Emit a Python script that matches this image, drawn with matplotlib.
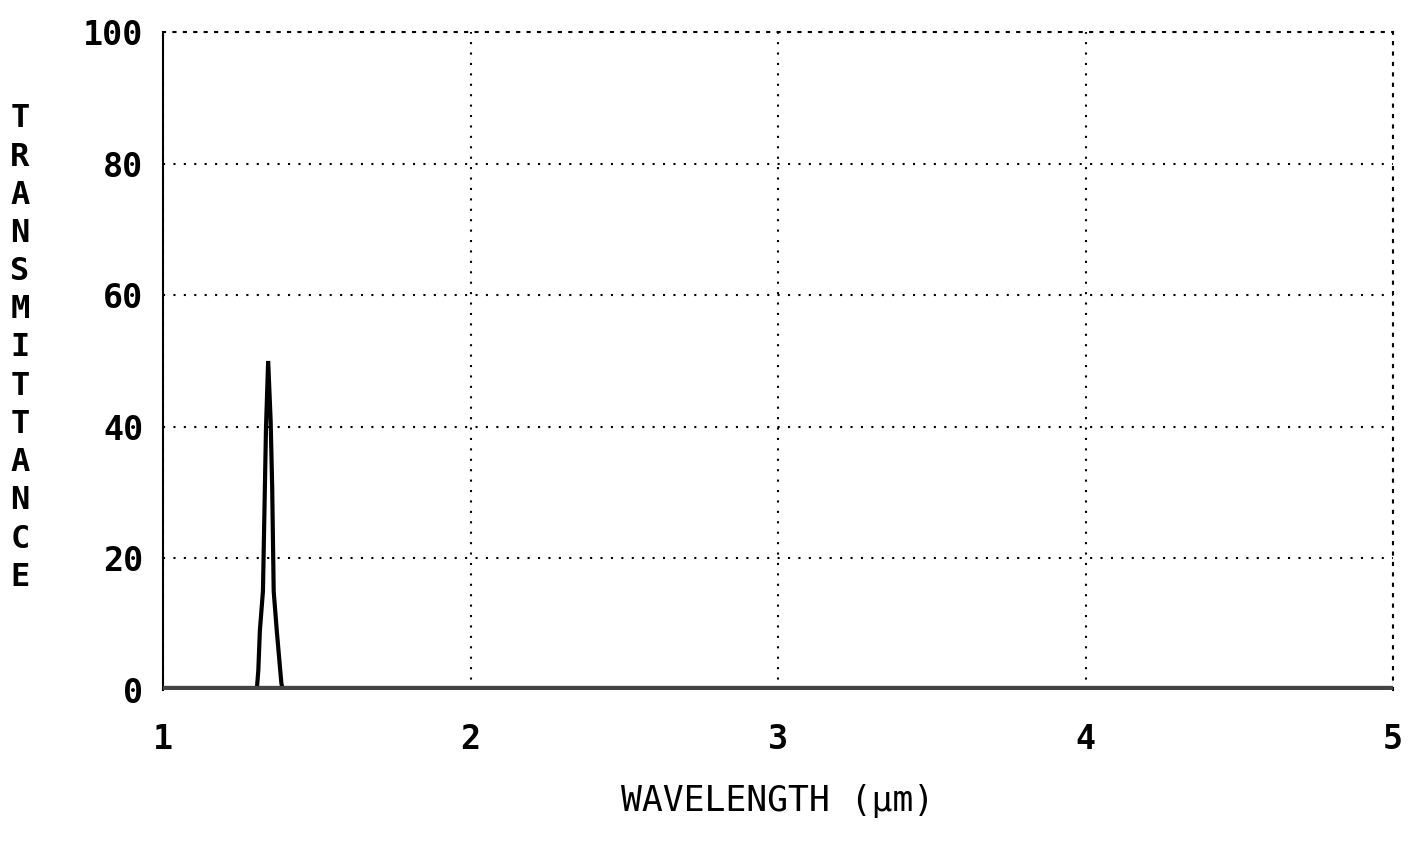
import numpy as np
import matplotlib
matplotlib.use("Agg")
import matplotlib.pyplot as plt

# transmittance spectrum
wavelength = [1.00, 1.305, 1.31, 1.315, 1.325, 1.335, 1.342, 1.35, 1.355, 1.36, 1.37, 1.385, 1.39, 5.00]
transmittance = [0, 0, 3, 9, 15, 40, 50, 41, 31, 15, 9, 1, 0, 0]

xticks = [1, 2, 3, 4, 5]
yticks = [0, 20, 40, 60, 80, 100]

plt.rcParams['font.family'] = 'DejaVu Sans Mono'
plt.rcParams['font.weight'] = 'bold'

fig = plt.figure(figsize=(14.14, 8.49), dpi=100)
ax = fig.add_axes([163/1414, 1 - 690/849, 1230/1414, 658/849])

ax.plot(wavelength, transmittance, color="black", lw=3, solid_joinstyle="miter")
ax.axhline(0, color="#444444", lw=6, zorder=3)

ax.set_xlim(1, 5)
ax.set_ylim(0, 100)
ax.set_xticks(xticks)
ax.set_yticks(yticks)
ax.tick_params(length=0, labelsize=24)
ax.tick_params(axis="x", pad=24)
ax.tick_params(axis="y", pad=14)
ax.grid(True, color="black", linestyle=(0, (1, 4)), lw=1.5)

ax.spines["left"].set_linewidth(1.5)
ax.spines["bottom"].set_visible(False)
for s in ["top", "right"]:
    ax.spines[s].set_linestyle((0, (1, 4)))
    ax.spines[s].set_linewidth(1.5)

ax.set_xlabel("WAVELENGTH (\u03bcm)", fontsize=25, labelpad=20)
fig.text(20/1414, 1 - 348/849, "\n".join("TRANSMITTANCE"), fontsize=23,
         ha="center", va="center", linespacing=1.3)

fig.savefig("out.png", dpi=100)
